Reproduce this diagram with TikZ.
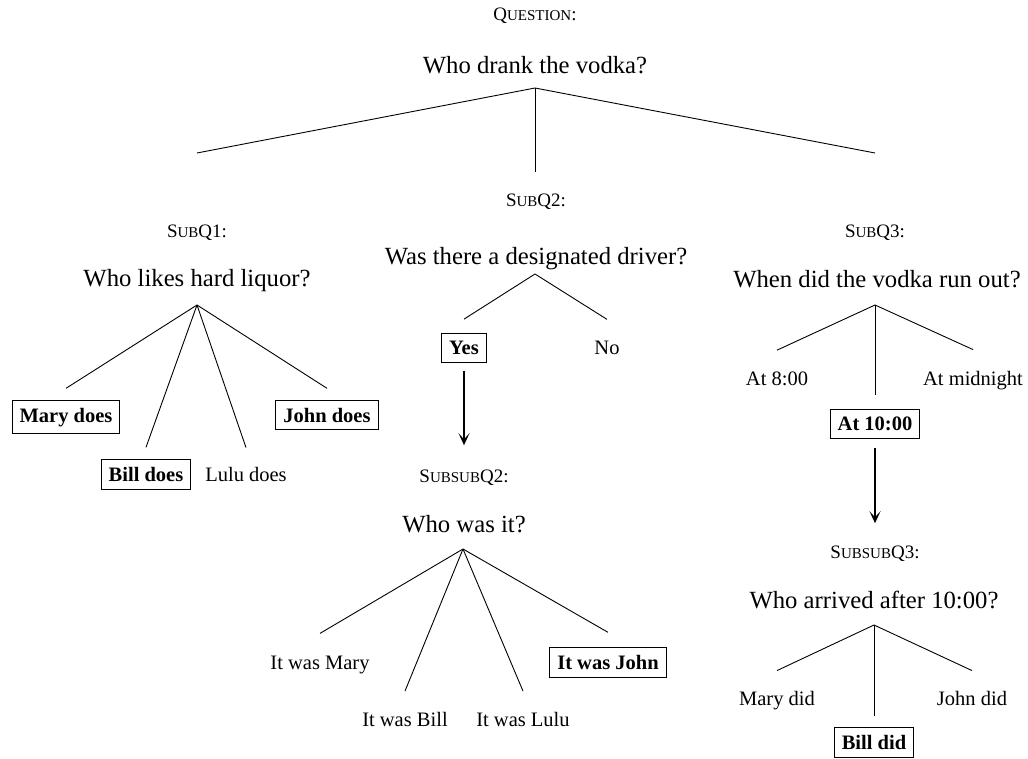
\documentclass[tikz,border=0pt]{standalone}
\usepackage{fontspec}
\setmainfont{Liberation Serif}
\usetikzlibrary{arrows.meta}
% small-capital letters for the question tags
\newcommand\tagsc[1]{{\fontsize{15}{15}\selectfont #1}}

\begin{document}
\begin{tikzpicture}[x=1pt,y=-1pt,
  qtext/.style={font=\fontsize{24.7}{26}\selectfont, anchor=base, inner sep=0pt},
  qtag/.style={font=\fontsize{19}{20}\selectfont, anchor=base, inner sep=2pt},
  ans/.style={font=\fontsize{20.5}{22}\selectfont, anchor=base, inner sep=7.5pt},
  pick/.style={ans, draw, line width=0.9pt, font=\fontsize{20.5}{22}\selectfont\bfseries},
  branch/.style={line width=0.9pt},
  follow/.style={line width=1.8pt, -{Stealth[length=12pt,width=11pt,inset=6pt]}}
]
\useasboundingbox (0,0) rectangle (1028,759);

% main question
\node[qtag]  (qlab) at (535,21) {Q\tagsc{UESTION}:};
\node[qtext] (q)    at (535,74) {Who drank the vodka?};
\coordinate (qf) at (535,88);
\coordinate (qe1) at (197,153);
\coordinate (qe2) at (535,172);
\coordinate (qe3) at (875,153);
\draw[branch] (qf) -- (qe1);
\draw[branch] (qf) -- (qe2);
\draw[branch] (qf) -- (qe3);

% SubQ1
\node[qtag]  (s1lab) at (197,238) {S\tagsc{UB}Q1:};
\node[qtext] (s1)    at (197,287) {Who likes hard liquor?};
\coordinate (s1f) at (197,305);
\node[pick] (mary) at (66,422)    {Mary does};
\node[pick] (john) at (327,422)   {John does};
\node[pick] (bill) at (146,481.5) {Bill does};
\node[ans]  (lulu) at (246,481.5) {Lulu does};
\draw[branch] (s1f) -- ([yshift=11.5pt]mary.north);
\draw[branch] (s1f) -- ([yshift=12pt]bill.north);
\draw[branch] (s1f) -- ([yshift=12pt]lulu.north);
\draw[branch] (s1f) -- ([yshift=11.5pt]john.north);

% SubQ2
\node[qtag]  (s2lab) at (536,207) {S\tagsc{UB}Q2:};
\node[qtext] (s2)    at (536,265) {Was there a designated driver?};
\coordinate (s2f) at (535,274);
\node[pick] (yes) at (464,354.5) {Yes};
\node[ans]  (no)  at (607,354.5) {No};
\draw[branch] (s2f) -- ([yshift=14pt]yes.north);
\draw[branch] (s2f) -- ([yshift=14pt]no.north);

% SubsubQ2
\node[qtag]  (ss2lab) at (464,482) {S\tagsc{UBSUB}Q2:};
\node[qtext] (ss2)    at (464,532) {Who was it?};
\coordinate (ss2f) at (463,549);
\draw[follow] ([yshift=-8pt]yes.south) -- ([yshift=22pt]ss2lab.north);
\node[ans]  (itmary) at (320,669.5) {It was Mary};
\node[pick] (itjohn) at (608,669.5) {It was John};
\node[ans]  (itbill) at (405,726.5) {It was Bill};
\node[ans]  (itlulu) at (523,726.5) {It was Lulu};
\draw[branch] (ss2f) -- ([yshift=15pt]itmary.north);
\draw[branch] (ss2f) -- ([yshift=13.5pt]itbill.north);
\draw[branch] (ss2f) -- ([yshift=13.5pt]itlulu.north);
\draw[branch] (ss2f) -- ([yshift=15pt]itjohn.north);

% SubQ3
\node[qtag]  (s3lab) at (875,238) {S\tagsc{UB}Q3:};
\node[qtext] (s3)    at (877,288) {When did the vodka run out?};
\coordinate (s3f) at (875,305);
\node[ans]  (at8)  at (777,385)   {At 8:00};
\node[ans]  (atmid) at (973,385)  {At midnight};
\node[pick] (at10) at (875,430.5) {At 10:00};
\draw[branch] (s3f) -- ([yshift=13.5pt]at8.north);
\draw[branch] (s3f) -- ([yshift=14pt]at10.north);
\draw[branch] (s3f) -- ([yshift=13.5pt]atmid.north);

% SubsubQ3
\node[qtag]  (ss3lab) at (875,558) {S\tagsc{UBSUB}Q3:};
\node[qtext] (ss3)    at (874,608) {Who arrived after 10:00?};
\coordinate (ss3f) at (874,625);
\draw[follow] ([yshift=-9pt]at10.south) -- ([yshift=20pt]ss3lab.north);
\node[ans]  (marydid) at (777,705)   {Mary did};
\node[ans]  (johndid) at (972,705)   {John did};
\node[pick] (billdid) at (874,749.5) {Bill did};
\draw[branch] (ss3f) -- ([yshift=12.5pt]marydid.north);
\draw[branch] (ss3f) -- ([yshift=11pt]billdid.north);
\draw[branch] (ss3f) -- ([yshift=12.5pt]johndid.north);
\end{tikzpicture}
\end{document}
